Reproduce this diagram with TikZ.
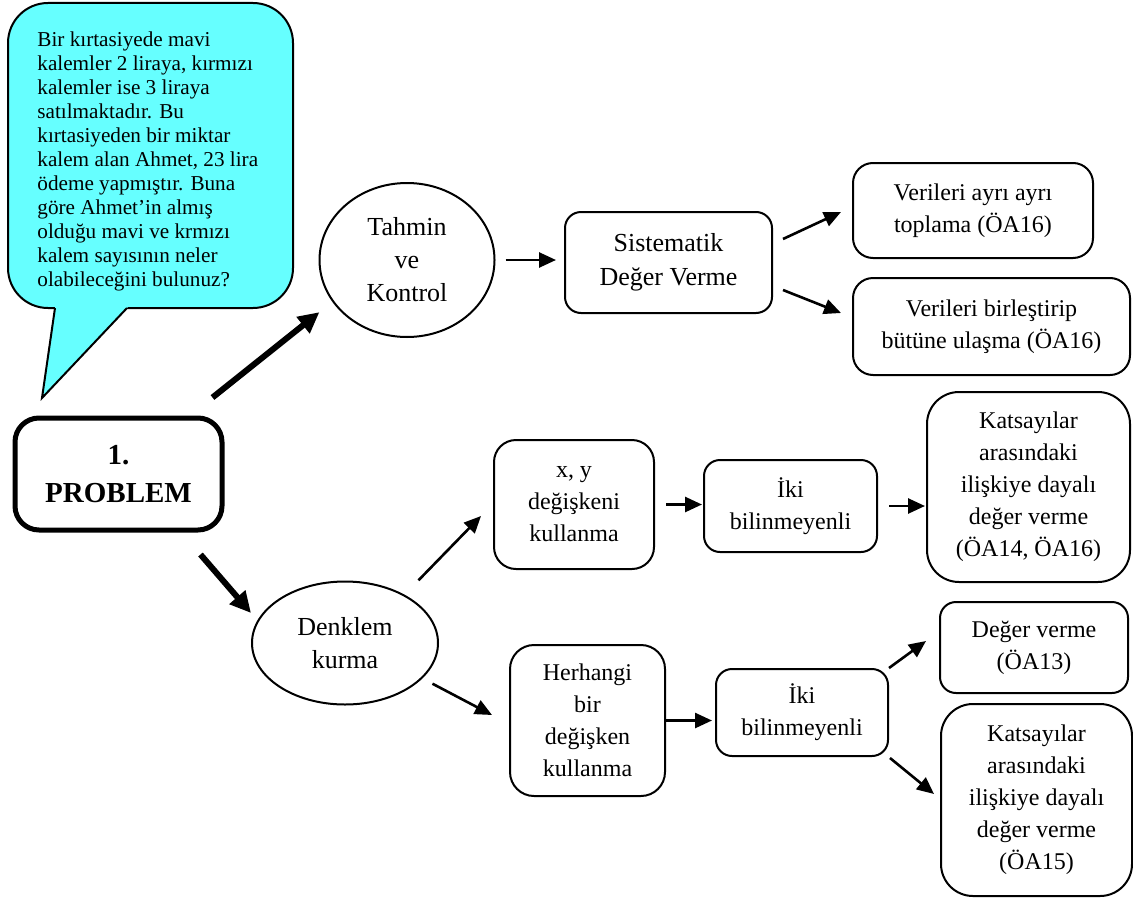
\documentclass[tikz,border=0pt]{standalone}
\usepackage{fontspec}
\setmainfont{Liberation Serif}
\usetikzlibrary{arrows.meta,shapes.geometric}
\definecolor{balloon}{RGB}{102,255,255}

\begin{document}
\begin{tikzpicture}
[x=0.5pt, y=-0.5pt,
% STYLES
every node/.style={align=center, inner sep=2pt},
% The step style is used for the rounded boxes of the solution steps
stepbox/.style={rectangle, draw, line width=1pt, rounded corners=8pt, font=\fontsize{12}{16}\selectfont},
% The strategy style is used for the two ways of solving
strategy/.style={ellipse, draw, line width=1pt, font=\fontsize{13}{16.5}\selectfont},
% arrows
arr/.style={-{Triangle[length=8.5pt,width=7.5pt]}, line width=1.3pt},
bigarr/.style={-{Triangle[length=10.5pt,width=10pt]}, line width=3pt}]
\useasboundingbox (0,0) rectangle (1133,899);
% Draw the speech balloon
\filldraw[fill=balloon, line width=1pt, rounded corners=20pt] (8,3) rectangle (293,308);
\fill[balloon] (55.6,304) -- (42,398) -- (130.8,304) -- cycle;
\draw[line width=1pt] (55,308) -- (42,398) -- (127,308);
\node[anchor=north west, align=left, inner sep=0pt, font=\fontsize{10.6}{12}\selectfont] (soru) at (37,31) {Bir kırtasiyede mavi\\
kalemler 2 liraya, kırmızı\\
kalemler ise 3 liraya\\
satılmaktadır. Bu\\
kırtasiyeden bir miktar\\
kalem alan Ahmet, 23 lira\\
ödeme yapmıştır. Buna\\
göre Ahmet’in almış\\
olduğu mavi ve krmızı\\
kalem sayısının neler\\
olabileceğini bulunuz?};
% Draw the problem and the strategies
\node [stepbox, line width=2.5pt, rounded corners=12pt, minimum width=103.5pt, minimum height=56pt, font=\bfseries\fontsize{14.5}{19}\selectfont] (problem) at (118.5,474) {1.\\PROBLEM};
\node [strategy, minimum width=87.5pt, minimum height=77pt] (tahmin) at (407,260) {Tahmin\\ve\\Kontrol};
\node [strategy, minimum width=93pt, minimum height=61.5pt] (denklem) at (345,643) {Denklem\\kurma};
%%%%%%%%%%%%%%%
% Tahmin ve Kontrol
\node [stepbox, font=\fontsize{13}{17}\selectfont, minimum width=103.5pt, minimum height=50.5pt] (sistematik) at (668.5,262.5) {Sistematik\\Değer Verme};
\node [stepbox, rounded corners=10pt, minimum width=120pt, minimum height=47.5pt] (ayri) at (973,210.5) {Verileri ayrı ayrı\\toplama (ÖA16)};
\node [stepbox, rounded corners=10pt, minimum width=138.5pt, minimum height=48.5pt] (birlestir) at (991.5,326.5) {Verileri birleştirip\\bütüne ulaşma (ÖA16)};
% Denklem kurma, x ve y ile
\node [stepbox, rounded corners=11pt, minimum width=80pt, minimum height=64.5pt] (xy) at (574,504.5) {x, y\\değişkeni\\kullanma};
\node [stepbox, minimum width=86.5pt, minimum height=46pt] (iki-xy) at (790.5,506) {İki\\bilinmeyenli};
\node [stepbox, rounded corners=16pt, minimum width=101.5pt, minimum height=95pt] (katsayi-xy) at (1028.5,487) {Katsayılar\\arasındaki\\ilişkiye dayalı\\değer verme\\(ÖA14, ÖA16)};
% Denklem kurma, tek degisken ile
\node [stepbox, rounded corners=12pt, minimum width=77.5pt, minimum height=75.5pt] (herhangi) at (587.5,720.5) {Herhangi\\bir\\değişken\\kullanma};
\node [stepbox, minimum width=86pt, minimum height=43.5pt] (iki-tek) at (802,712.5) {İki\\bilinmeyenli};
\node [stepbox, minimum width=94pt, minimum height=45.5pt] (deger) at (1034,647.5) {Değer verme\\(ÖA13)};
\node [stepbox, rounded corners=16pt, minimum width=95.5pt, minimum height=96pt] (katsayi-tek) at (1036.5,800) {Katsayılar\\arasındaki\\ilişkiye dayalı\\değer verme\\(ÖA15)};
%%%%%%%%%%%%%%%%
% Draw the links
\draw[bigarr] ([shift={(-12,-18)}]problem.north east) -- ([shift={(-25,-3)}]tahmin.south west);
\draw[bigarr] ([shift={(-24,22)}]problem.south east) -- ([shift={(0,-30)}]denklem.west);
\draw[arr, shorten <=5pt, shorten >=4pt] (tahmin.east) -- (tahmin.east -| sistematik.west);
\draw[arr] ([shift={(10,-23.5)}]sistematik.east) -- ([shift={(-11,1.5)}]ayri.west);
\draw[arr] ([shift={(10,27.5)}]sistematik.east) -- ([shift={(-11,-13.5)}]birlestir.west);
\draw[arr] ([shift={(7,-18.5)}]denklem.north east) -- ([shift={(-12,11.5)}]xy.west);
\draw[arr] ([shift={(21,-3.5)}]denklem.south east) -- ([shift={(-17,-5.5)}]herhangi.west);
\draw[arr, shorten <=5.5pt, shorten >=0.5pt] (xy.east) -- (xy.east -| iki-xy.west);
\draw[arr, shorten <=5.5pt, shorten >=0.5pt] (iki-xy.east) -- (iki-xy.east -| katsayi-xy.west);
\draw[arr, shorten >=1.5pt] (herhangi.east) -- (herhangi.east -| iki-tek.west);
\draw[arr] (iki-tek.north east) -- ([shift={(-13,-6.5)}]deger.west);
\draw[arr] ([shift={(1,1)}]iki-tek.south east) -- ([shift={(-6,-6)}]katsayi-tek.west);
\end{tikzpicture}
\end{document}
